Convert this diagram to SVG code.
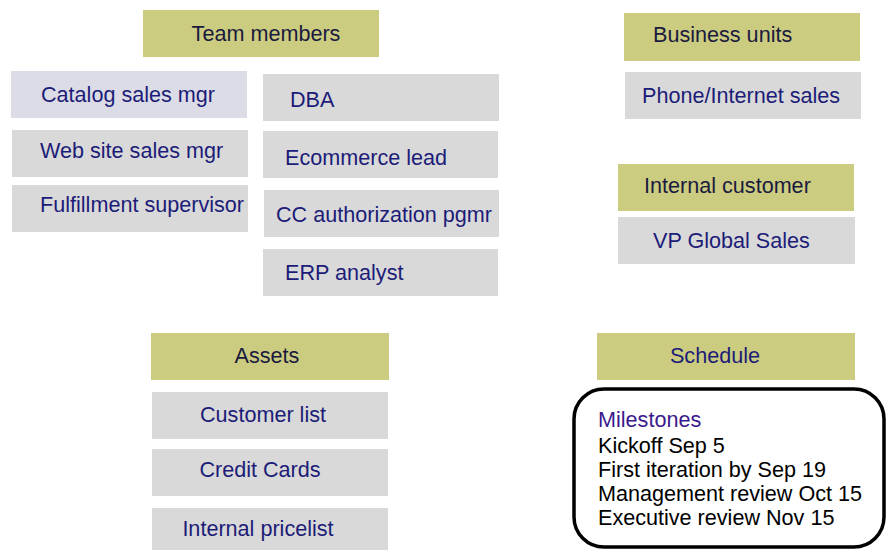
<svg xmlns="http://www.w3.org/2000/svg" width="887" height="550" viewBox="0 0 887 550">
<style>
text{font-family:"Liberation Sans",Arial,sans-serif;font-size:21.6px}
.hdr{fill:#cccc80}
.item{fill:#d9d9d9}
.itemb{fill:#dcdce6}
.ht{fill:#1a1a3e}
.it{fill:#1c1c78}
.ms{fill:#000}
</style>
<rect width="887" height="550" fill="#fff"/>
<g id="team-members"><rect class="hdr" x="143" y="10" width="236" height="47"/><text class="ht" x="266" y="41" text-anchor="middle">Team members</text></g>
<g id="catalog-sales-mgr"><rect class="itemb" x="11" y="71" width="236" height="47"/><text class="it" x="41" y="102">Catalog sales mgr</text></g>
<g id="web-site-sales-mgr"><rect class="item" x="12" y="130" width="236" height="47"/><text class="it" x="40" y="158">Web site sales mgr</text></g>
<g id="fulfillment-supervisor"><rect class="item" x="12" y="185" width="236" height="47"/><text class="it" x="40" y="212">Fulfillment supervisor</text></g>
<g id="dba"><rect class="item" x="263" y="74" width="236" height="47"/><text class="it" x="290" y="107">DBA</text></g>
<g id="ecommerce-lead"><rect class="item" x="263" y="131" width="235" height="47"/><text class="it" x="285" y="165">Ecommerce lead</text></g>
<g id="cc-authorization-pgmr"><rect class="item" x="264" y="190" width="235" height="47"/><text class="it" x="276" y="222">CC authorization pgmr</text></g>
<g id="erp-analyst"><rect class="item" x="263" y="249" width="235" height="47"/><text class="it" x="285" y="280">ERP analyst</text></g>
<g id="business-units"><rect class="hdr" x="624" y="13" width="236" height="48"/><text class="ht" x="653" y="42">Business units</text></g>
<g id="phone-internet-sales"><rect class="item" x="625" y="72" width="236" height="47"/><text class="it" x="642" y="103">Phone/Internet sales</text></g>
<g id="internal-customer"><rect class="hdr" x="618" y="164" width="236" height="47"/><text class="ht" x="644" y="193">Internal customer</text></g>
<g id="vp-global-sales"><rect class="item" x="618" y="217" width="237" height="47"/><text class="it" x="653" y="248">VP Global Sales</text></g>
<g id="assets"><rect class="hdr" x="151" y="333" width="238" height="47"/><text class="ht" x="267" y="363" text-anchor="middle">Assets</text></g>
<g id="customer-list"><rect class="item" x="152" y="392" width="236" height="47"/><text class="it" x="263" y="422" text-anchor="middle">Customer list</text></g>
<g id="credit-cards"><rect class="item" x="152" y="449" width="236" height="47"/><text class="it" x="260" y="477" text-anchor="middle">Credit Cards</text></g>
<g id="internal-pricelist"><rect class="item" x="152" y="508" width="236" height="50"/><text class="it" x="258" y="536" text-anchor="middle">Internal pricelist</text></g>
<g id="schedule"><rect class="hdr" x="597" y="333" width="258" height="47"/><text class="it" x="715" y="363" text-anchor="middle">Schedule</text></g>
<g id="milestones"><rect x="574" y="389" width="310" height="158" rx="30" ry="30" fill="#fff" stroke="#000" stroke-width="3.5"/>
<text x="598" y="427" fill="#3a1a8c">Milestones</text>
<text class="ms" x="598" y="453">Kickoff Sep 5</text>
<text class="ms" x="598" y="477">First iteration by Sep 19</text>
<text class="ms" x="598" y="501">Management review Oct 15</text>
<text class="ms" x="598" y="525">Executive review Nov 15</text></g>
<g id="connectors"/>
</svg>
